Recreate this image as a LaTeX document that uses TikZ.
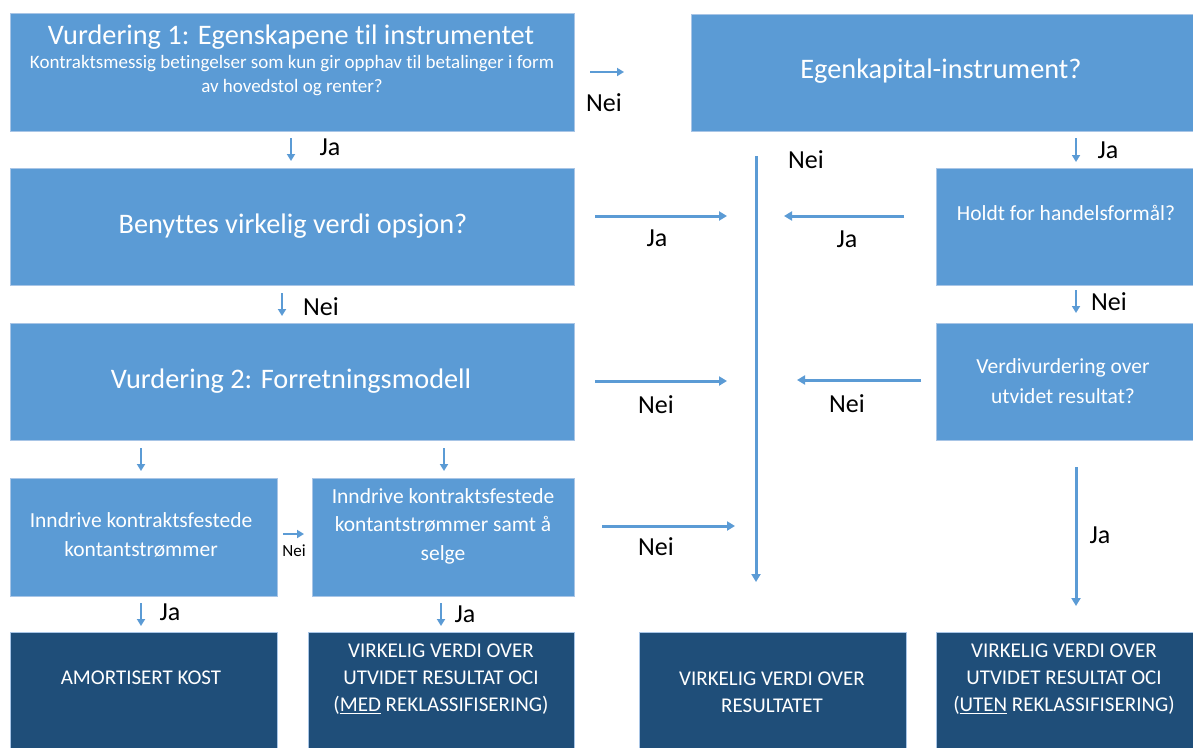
\documentclass[tikz,border=0pt]{standalone}
\usepackage{fontspec}
\setmainfont{Carlito}[Ligatures=NoCommon]
\usetikzlibrary{arrows.meta}
\definecolor{lblue}{HTML}{5B9BD5}
\definecolor{dblue}{HTML}{1F4E79}
\definecolor{edge}{HTML}{A8C5E6}
\begin{document}
\begin{tikzpicture}[x=1pt,y=-1pt,
  lbox/.style={fill=lblue, draw=edge, line width=0.8pt, anchor=north west, inner sep=0pt},
  dbox/.style={fill=dblue, draw=edge, line width=0.8pt, anchor=north west, inner sep=0pt},
  ttext/.style={text=white, align=center, inner sep=0pt, font=\fontsize{28.3}{34}\selectfont},
  btext/.style={text=white, align=center, inner sep=0pt, font=\fontsize{21.5}{28.5}\selectfont},
  ctext/.style={text=white, align=center, inner sep=0pt, font=\fontsize{21}{27}\selectfont},
  lab/.style={inner sep=0pt, font=\fontsize{26}{30}\selectfont},
  arr/.style={draw=lblue, line width=3pt, -{Triangle[length=8pt,width=9pt]}},
  sarr/.style={draw=lblue, line width=2.4pt, -{Triangle[length=7pt,width=8pt]}}]
\useasboundingbox (0,0) rectangle (1193,747);
\fill[white] (0,0) rectangle (1193,747);

% boxes
\node[lbox, minimum width=564pt, minimum height=118pt] (v1) at (10,13) {};
\node[lbox, minimum width=504pt, minimum height=117pt] (eq) at (691,14) {};
\node[lbox, minimum width=564pt, minimum height=117pt] (fvo) at (10,168) {};
\node[lbox, minimum width=259pt, minimum height=117pt] (held) at (936,168) {};
\node[lbox, minimum width=564pt, minimum height=117pt] (v2) at (10,323) {};
\node[lbox, minimum width=259pt, minimum height=117pt] (oci) at (936,323) {};
\node[lbox, minimum width=267pt, minimum height=118pt] (hold) at (10,478) {};
\node[lbox, minimum width=262pt, minimum height=118pt] (hs) at (312,478) {};
\node[dbox, minimum width=267pt, minimum height=122pt] (ac) at (10,632) {};
\node[dbox, minimum width=266pt, minimum height=122pt] (ocimed) at (308,632) {};
\node[dbox, minimum width=267pt, minimum height=122pt] (fvpl) at (639,632) {};
\node[dbox, minimum width=259pt, minimum height=122pt] (ociuten) at (936,632) {};

% box texts
\node[ttext] (t-v1) at (291,37) {Vurdering 1: Egenskapene til instrumentet};
\node[text=white, align=center, inner sep=0pt, font=\fontsize{19}{24}\selectfont] (t-v1b) at (292,76)
  {Kontraktsmessig betingelser som kun gir opphav til betalinger i form\\av hovedstol og renter?};
\node[ttext] (t-eq) at (941,71) {Egenkapital-instrument?};
\node[ttext] (t-fvo) at (293,226) {Benyttes virkelig verdi opsjon?};
\node[ttext] (t-v2) at (291,381) {Vurdering 2: Forretningsmodell};
\node[btext] (t-held) at (1066,213) {Holdt for handelsformål?};
\node[btext, font=\fontsize{21.5}{30}\selectfont] (t-oci) at (1063,381) {Verdivurdering over\\utvidet resultat?};
\node[btext] (t-hold) at (141,535) {Inndrive kontraktsfestede\\kontantstrømmer};
\node[btext] (t-hs) at (443,526) {Inndrive kontraktsfestede\\kontantstrømmer samt å\\selge};
\node[ctext] (t-ac) at (141,678) {AMORTISERT KOST};
\node[ctext] (t-ocimed) at (441,679) {VIRKELIG VERDI OVER\\UTVIDET RESULTAT OCI\\(\underline{MED} REKLASSIFISERING)};
\node[ctext] (t-fvpl) at (772,692) {VIRKELIG VERDI OVER\\RESULTATET};
\node[ctext] (t-ociuten) at (1064,679) {VIRKELIG VERDI OVER\\UTVIDET RESULTAT OCI\\(\underline{UTEN} REKLASSIFISERING)};

% connector end points
\coordinate (a1s) at (590,72);   \coordinate (a1e) at (624,72);
\coordinate (a2s) at (291,138);  \coordinate (a2e) at (291,161);
\coordinate (a3s) at (1076,138); \coordinate (a3e) at (1076,162);
\coordinate (vs) at (756,156);   \coordinate (ve) at (756,582);
\coordinate (a5s) at (595,216);  \coordinate (a5e) at (727,216);
\coordinate (a6s) at (904,216);  \coordinate (a6e) at (784,216);
\coordinate (a7s) at (282,293);  \coordinate (a7e) at (282,316);
\coordinate (a8s) at (1076,290); \coordinate (a8e) at (1076,313);
\coordinate (a9s) at (595,381);  \coordinate (a9e) at (727,381);
\coordinate (a10s) at (921,380); \coordinate (a10e) at (797,380);
\coordinate (a11s) at (141,448); \coordinate (a11e) at (141,471);
\coordinate (a12s) at (444,448); \coordinate (a12e) at (444,471);
\coordinate (a13s) at (283,534); \coordinate (a13e) at (304,534);
\coordinate (a14s) at (602,526); \coordinate (a14e) at (735,526);
\coordinate (a15s) at (141,603); \coordinate (a15e) at (141,626);
\coordinate (a16s) at (441,603); \coordinate (a16e) at (441,626);
\coordinate (a17s) at (1076,467);\coordinate (a17e) at (1076,606);

% connectors
\draw[sarr] (a1s) -- (a1e);
\draw[sarr] (a2s) -- (a2e);
\draw[sarr] (a3s) -- (a3e);
\draw[arr] (vs) -- (ve);
\draw[arr] (a5s) -- (a5e);
\draw[arr] (a6s) -- (a6e);
\draw[sarr] (a7s) -- (a7e);
\draw[sarr] (a8s) -- (a8e);
\draw[arr] (a9s) -- (a9e);
\draw[arr] (a10s) -- (a10e);
\draw[sarr] (a11s) -- (a11e);
\draw[sarr] (a12s) -- (a12e);
\draw[sarr] (a13s) -- (a13e);
\draw[arr] (a14s) -- (a14e);
\draw[sarr] (a15s) -- (a15e);
\draw[sarr] (a16s) -- (a16e);
\draw[arr] (a17s) -- (a17e);

% labels
\node[lab] (l1) at (604,103) {Nei};
\node[lab] (l2) at (330,147) {Ja};
\node[lab] (l3) at (1108,150) {Ja};
\node[lab] (l4) at (806,160) {Nei};
\node[lab] (l5) at (657,238) {Ja};
\node[lab] (l6) at (847,239) {Ja};
\node[lab] (l7) at (321,307) {Nei};
\node[lab] (l8) at (1109,302) {Nei};
\node[lab] (l9) at (656,405) {Nei};
\node[lab] (l10) at (847,404) {Nei};
\node[inner sep=0pt, font=\fontsize{17}{20}\selectfont] (l11) at (294,551) {Nei};
\node[lab] (l12) at (656,547) {Nei};
\node[lab] (l13) at (170,612) {Ja};
\node[lab] (l14) at (465,614) {Ja};
\node[lab] (l15) at (1100,535) {Ja};
\end{tikzpicture}
\end{document}
